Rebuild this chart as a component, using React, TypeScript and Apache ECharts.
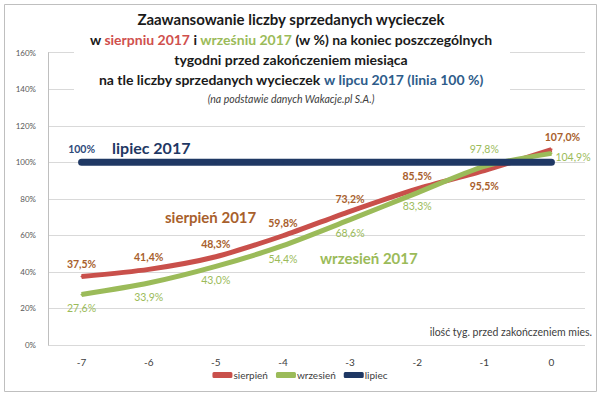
import React, { useEffect, useRef } from "react";
import * as echarts from "echarts";

const weeks = ["-7", "-6", "-5", "-4", "-3", "-2", "-1", "0"];
const sierpien = [37.5, 41.4, 48.3, 59.8, 73.2, 85.5, 95.5, 107.0];
const wrzesien = [27.6, 33.9, 43.0, 54.4, 68.6, 83.3, 97.8, 104.9];
const lipiec = [100, 100, 100, 100, 100, 100, 100, 100];
const seriesNames = ["sierpień", "wrzesień", "lipiec"];

const sierpienLabelPos = ["top", "top", "top", "top", "top", "top", "bottom", "top"];
const wrzesienLabelPos = ["bottom", "bottom", "bottom", "bottom", "bottom", "bottom", "top", "right"];

const FONT = "Lato";
const RED = "#C9504B";
const RED_LABEL = "#A8602C";
const GREEN = "#9BBB59";
const NAVY = "#1F3864";

const fmt = (v: number) => v.toFixed(1).replace(".", ",") + "%";

export default function App() {
  const ref = useRef<HTMLDivElement>(null);
  useEffect(() => {
    if (!ref.current) return;
    const chart = echarts.init(ref.current, undefined, { renderer: "svg" });
    const option: any = {
      animation: false,
      backgroundColor: "#ffffff",
      textStyle: { fontFamily: FONT },
      grid: { left: 48, right: 15, top: 52.7, bottom: 51 },
      legend: {
        bottom: 11,
        left: "center",
        itemWidth: 20,
        itemHeight: 6,
        itemGap: 8,
        icon: "roundRect",
        textStyle: { fontFamily: FONT, fontSize: 10, color: "#404040", padding: [0, 0, 0, -4] },
        data: seriesNames,
      },
      xAxis: {
        type: "category",
        data: weeks,
        boundaryGap: true,
        axisLine: { show: false },
        axisTick: { show: false },
        axisLabel: { fontFamily: FONT, fontSize: 10, color: "#404040", margin: 12 },
      },
      yAxis: {
        type: "value",
        min: 0,
        max: 160,
        interval: 20,
        axisLine: { show: true, lineStyle: { color: "#BFBFBF", width: 1 } },
        axisTick: { show: false },
        axisLabel: {
          fontFamily: FONT,
          fontSize: 8,
          color: "#595959",
          margin: 12,
          formatter: (v: number) => v + "%",
        },
        splitLine: { lineStyle: { color: "#D9D9D9", width: 1 } },
      },
      series: [
        {
          name: seriesNames[0],
          type: "line",
          smooth: 0.25,
          symbol: "circle",
          symbolSize: 2,
          showSymbol: true,
          color: RED,
          itemStyle: { color: RED },
          lineStyle: { width: 5, color: RED },
          z: 2,
          data: sierpien.map((v, i) => ({
            value: v,
            label: {
              show: true,
              position: sierpienLabelPos[i],
              distance: i === 6 ? 9 : 6,
              offset: i === 7 ? [11, 0] : [0, 0],
            },
          })),
          label: {
            show: true,
            formatter: (p: any) => fmt(p.value),
            fontFamily: FONT,
            fontSize: 10.5,
            fontWeight: "bold",
            color: RED_LABEL,
          },
        },
        {
          name: seriesNames[1],
          type: "line",
          smooth: 0.25,
          symbol: "circle",
          symbolSize: 2,
          showSymbol: true,
          color: GREEN,
          itemStyle: { color: GREEN },
          lineStyle: { width: 5, color: GREEN },
          z: 2,
          data: wrzesien.map((v, i) => ({
            value: v,
            label: {
              show: true,
              position: wrzesienLabelPos[i],
              distance: i === 6 ? 11 : i === 7 ? 3 : 7,
              offset: i === 7 ? [0, 4] : [0, 0],
            },
          })),
          label: {
            show: true,
            formatter: (p: any) => fmt(p.value),
            fontFamily: FONT,
            fontSize: 10.5,
            color: GREEN,
          },
        },
        {
          name: seriesNames[2],
          type: "line",
          symbol: "circle",
          symbolSize: 2,
          showSymbol: true,
          color: NAVY,
          itemStyle: { color: NAVY },
          lineStyle: { width: 7, color: NAVY, cap: "round" },
          z: 3,
          data: lipiec.map((v, i) => ({
            value: v,
            label: { show: i === 0, position: "top", distance: 7 },
          })),
          label: {
            formatter: (p: any) => p.value + "%",
            fontFamily: FONT,
            fontSize: 10.5,
            fontWeight: "bold",
            color: "#2E4A7A",
          },
        },
      ],
      graphic: [
        {
          type: "rect",
          silent: true,
          shape: { x: 4.5, y: 4.5, width: 592, height: 387 },
          style: { fill: "none", stroke: "#BFBFBF", lineWidth: 1 },
          z: 0,
        },
        {
          type: "rect",
          silent: true,
          shape: { x: 74, y: 45, width: 436, height: 60 },
          style: { fill: "#ffffff" },
          z: 5,
        },
        {
          type: "text",
          silent: true,
          x: 291,
          y: 9,
          z: 6,
          style: {
            text:
              "{t|Zaawansowanie liczby sprzedanych wycieczek}\n" +
              "{b|w }{r|sierpniu 2017}{b| i }{g|wrześniu 2017}{b| (w %) na koniec poszczególnych}\n" +
              "{b|tygodni przed zakończeniem miesiąca}\n" +
              "{b|na tle liczby sprzedanych wycieczek }{n|w lipcu 2017 (linia 100 %)}\n" +
              "{i|(na podstawie danych Wakacje.pl S.A.)}",
            align: "center",
            verticalAlign: "top",
            fontFamily: FONT,
            rich: {
              t: { fontFamily: FONT, fontSize: 15, fontWeight: "bold", fill: "#1A1A1A", lineHeight: 20 },
              b: { fontFamily: FONT, fontSize: 14, fontWeight: "bold", fill: "#1A1A1A", lineHeight: 20 },
              r: { fontFamily: FONT, fontSize: 14, fontWeight: "bold", fill: "#D0504D", lineHeight: 20 },
              g: { fontFamily: FONT, fontSize: 14, fontWeight: "bold", fill: "#9BBB59", lineHeight: 20 },
              n: { fontFamily: FONT, fontSize: 14, fontWeight: "bold", fill: "#2E5C8A", lineHeight: 20 },
              i: { fontFamily: FONT, fontSize: 10.5, fontStyle: "italic", fill: "#404040", lineHeight: 20 },
            },
          },
        },
        {
          type: "text",
          silent: true,
          x: 112,
          y: 147,
          z: 6,
          style: {
            text: "lipiec 2017",
            fontFamily: FONT,
            fontSize: 16,
            fontWeight: "bold",
            fill: NAVY,
            verticalAlign: "middle",
          },
        },
        {
          type: "text",
          silent: true,
          x: 165,
          y: 217,
          z: 6,
          style: {
            text: "sierpień 2017",
            fontFamily: FONT,
            fontSize: 15,
            fontWeight: "bold",
            fill: RED_LABEL,
            verticalAlign: "middle",
          },
        },
        {
          type: "text",
          silent: true,
          x: 320,
          y: 258,
          z: 6,
          style: {
            text: "wrzesień 2017",
            fontFamily: FONT,
            fontSize: 15,
            fontWeight: "bold",
            fill: GREEN,
            verticalAlign: "middle",
          },
        },
        {
          type: "text",
          silent: true,
          x: 592,
          y: 332,
          z: 6,
          style: {
            text: "ilość tyg. przed zakończeniem mies.",
            fontFamily: FONT,
            fontSize: 10.5,
            fill: "#404040",
            align: "right",
            verticalAlign: "middle",
          },
        },
      ],
    };
    chart.setOption(option);
    return () => chart.dispose();
  }, []);
  return (
    <div
      ref={ref}
      style={{ position: "fixed", left: 0, top: 0, width: 600, height: 396 }}
    />
  );
}
